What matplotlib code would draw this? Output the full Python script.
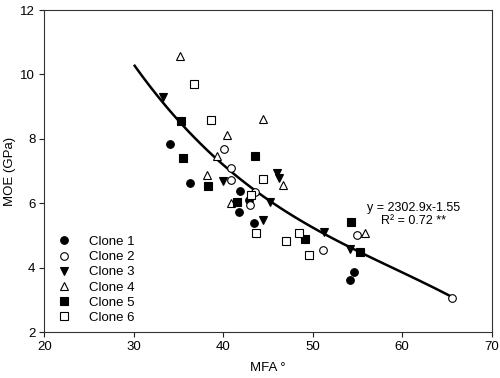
import numpy as np
import matplotlib
matplotlib.use("Agg")
import matplotlib.pyplot as plt

plt.rcParams['font.family'] = ['Liberation Sans', 'DejaVu Sans']

# data (MFA in degrees, MOE in GPa)
clone1_x = [34.05, 36.28, 41.88, 42.84, 41.79, 43.44, 54.57, 54.16]
clone1_y = [7.85, 6.62, 6.38, 6.10, 5.72, 5.40, 3.86, 3.62]
clone2_x = [40.08, 40.87, 40.87, 43.51, 42.99, 51.18, 54.98, 65.53]
clone2_y = [7.70, 7.11, 6.73, 6.34, 5.95, 4.55, 5.01, 3.07]
clone3_x = [33.23, 39.93, 46.00, 46.20, 45.22, 44.41, 51.30, 54.16]
clone3_y = [9.29, 6.70, 6.95, 6.80, 6.03, 5.48, 5.12, 4.58]
clone4_x = [35.17, 40.42, 44.41, 39.27, 38.18, 46.64, 40.87, 55.84]
clone4_y = [10.57, 8.12, 8.63, 7.48, 6.87, 6.57, 6.00, 5.07]
clone5_x = [35.28, 35.53, 38.33, 43.55, 41.50, 49.14, 54.28, 55.28]
clone5_y = [8.57, 7.42, 6.55, 7.47, 6.05, 4.89, 5.41, 4.50]
clone6_x = [36.77, 38.63, 44.41, 43.07, 43.66, 46.97, 48.50, 49.55]
clone6_y = [9.69, 8.58, 6.75, 6.26, 5.09, 4.84, 5.09, 4.40]

# points
fit_x = [30.1, 33.1, 35.2, 37.0, 39.3, 41.1, 43.6, 45.2, 47.5, 51.4, 54.2, 58.6, 65.5]
fit_y = [10.17, 9.31, 8.59, 7.97, 7.35, 6.83, 6.36, 6.05, 5.69, 5.12, 4.61, 4.04, 3.10]

labels = ["Clone 1", "Clone 2", "Clone 3", "Clone 4", "Clone 5", "Clone 6"]
xs = [clone1_x, clone2_x, clone3_x, clone4_x, clone5_x, clone6_x]
ys = [clone1_y, clone2_y, clone3_y, clone4_y, clone5_y, clone6_y]
markers = ["o", "o", "v", "^", "s", "s"]
faces = ["black", "white", "black", "white", "black", "white"]
sizes = [5.5, 5.5, 6.3, 6.3, 5.3, 5.3]

fig = plt.figure(figsize=(5, 3.78), dpi=100)
ax = fig.add_axes([0.0886, 0.1209, 0.8948, 0.8526])

# smooth trend line through the traced curve
coef = np.polyfit(fit_x, fit_y, 3)
xx = np.linspace(fit_x[0], fit_x[-1], 100)
ax.plot(xx, np.polyval(coef, xx), color="black", lw=1.8, zorder=2)

for x, y, m, fc, ms, lab in zip(xs, ys, markers, faces, sizes, labels):
    ax.plot(x, y, ls="none", marker=m, ms=ms, mfc=fc, mec="black", mew=0.8,
            label=lab, zorder=3)

ax.text(61.3, 5.87, "y = 2302.9x-1.55", ha="center", va="center", fontsize=9)
ax.text(61.3, 5.45, "R² = 0.72 **", ha="center", va="center", fontsize=9)

ax.set_xlim(20, 70)
ax.set_ylim(2, 12)
ax.set_xticks([20, 30, 40, 50, 60, 70])
ax.set_yticks([2, 4, 6, 8, 10, 12])
ax.tick_params(direction="out", length=3.5, width=0.8, labelsize=9.5, colors="#222222",
               labelcolor="black", pad=3)
for s in ax.spines.values():
    s.set_linewidth(0.8)
    s.set_color("#333333")
ax.set_xlabel("MFA °", fontsize=9.5, labelpad=6)
ax.set_ylabel("MOE (GPa)", fontsize=9.5, labelpad=3)

ax.legend(loc="lower left", bbox_to_anchor=(0.017, 0.01), frameon=False, fontsize=9.5,
          handletextpad=1.4, labelspacing=0.22, handlelength=1.0, borderaxespad=0)

fig.savefig("out.png", dpi=100)
